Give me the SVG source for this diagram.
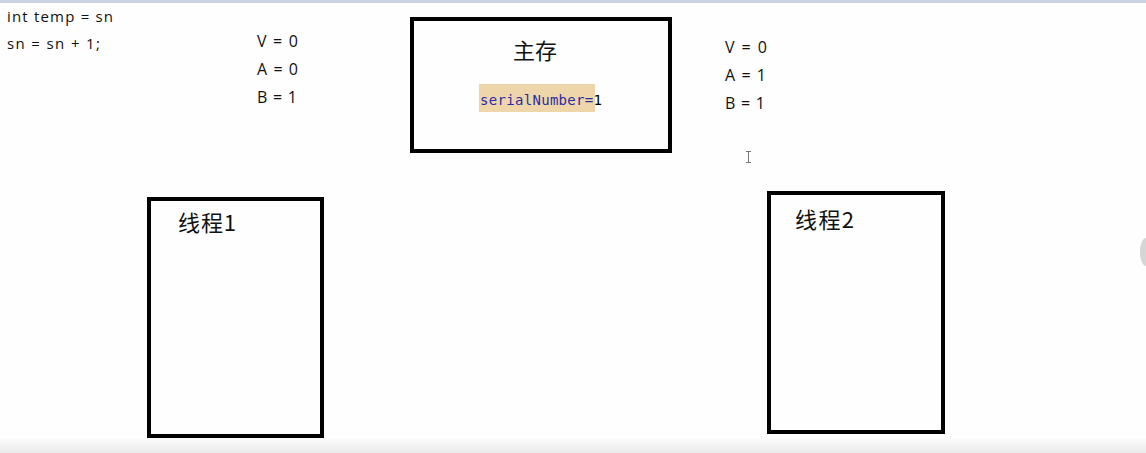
<svg xmlns="http://www.w3.org/2000/svg" width="1146" height="453" viewBox="0 0 1146 453">
<defs>
<style>
.t{font-family:"Open Sans","Liberation Sans","Noto Sans CJK SC",sans-serif;font-size:15px;fill:#111}
.v{font-family:"Open Sans","Liberation Sans",sans-serif;font-size:16px;fill:#111}
.cj{font-family:"Noto Sans CJK SC","Noto Sans",sans-serif;font-size:22px;fill:#111}
.box{fill:none;stroke:#000;stroke-width:4}
.mono{font-family:"DejaVu Sans Mono","Liberation Mono",monospace;font-size:14px}
</style>
<linearGradient id="bot" x1="0" y1="0" x2="0" y2="1">
<stop offset="0" stop-color="#fbfcfb"/>
<stop offset="1" stop-color="#e9eae9"/>
</linearGradient>
</defs>
<rect x="0" y="0" width="1146" height="453" fill="#fdfefd"/>
<rect x="0" y="0" width="1146" height="3" fill="#c9d3e1"/>
<rect x="0" y="438" width="1146" height="15" fill="url(#bot)"/>
<g id="code">
<text class="t" x="7" y="22" textLength="106">int temp = sn</text>
<text class="t" x="7" y="49" textLength="93">sn = sn + 1;</text>
</g>
<g id="vals-left">
<text class="v" x="257" y="47" textLength="41">V = 0</text>
<text class="v" x="257" y="75" textLength="41">A = 0</text>
<text class="v" x="257" y="103" textLength="40">B = 1</text>
</g>
<g id="vals-right">
<text class="v" x="725" y="53" textLength="42">V = 0</text>
<text class="v" x="725" y="81" textLength="41">A = 1</text>
<text class="v" x="725" y="109" textLength="40">B = 1</text>
</g>
<g id="main-memory">
<rect class="box" x="412" y="19" width="258" height="132"/>
<text class="cj" x="535" y="59" text-anchor="middle">主存</text>
<rect x="479" y="84" width="116" height="28" fill="#eed6aa"/>
<text class="mono" x="480" y="105" textLength="122" lengthAdjust="spacing"><tspan fill="#2b2ba6">serialNumber=</tspan><tspan fill="#000">1</tspan></text>
</g>
<g id="thread1">
<rect class="box" x="149" y="199" width="173" height="237"/>
<text class="cj" x="178" y="231" textLength="58">线程1</text>
</g>
<g id="thread2">
<rect class="box" x="769" y="193" width="174" height="239"/>
<text class="cj" x="795" y="228" textLength="59">线程2</text>
</g>
<g id="connectors"/>
<g id="cursor" stroke="#777" stroke-width="1" fill="none">
<path d="M746 151.5h5M748.5 151.5v11M746 162.5h5"/>
</g>
<path d="M1146 238a6 14 0 0 0 0 28z" fill="#bbb" opacity="0.6"/>
</svg>
